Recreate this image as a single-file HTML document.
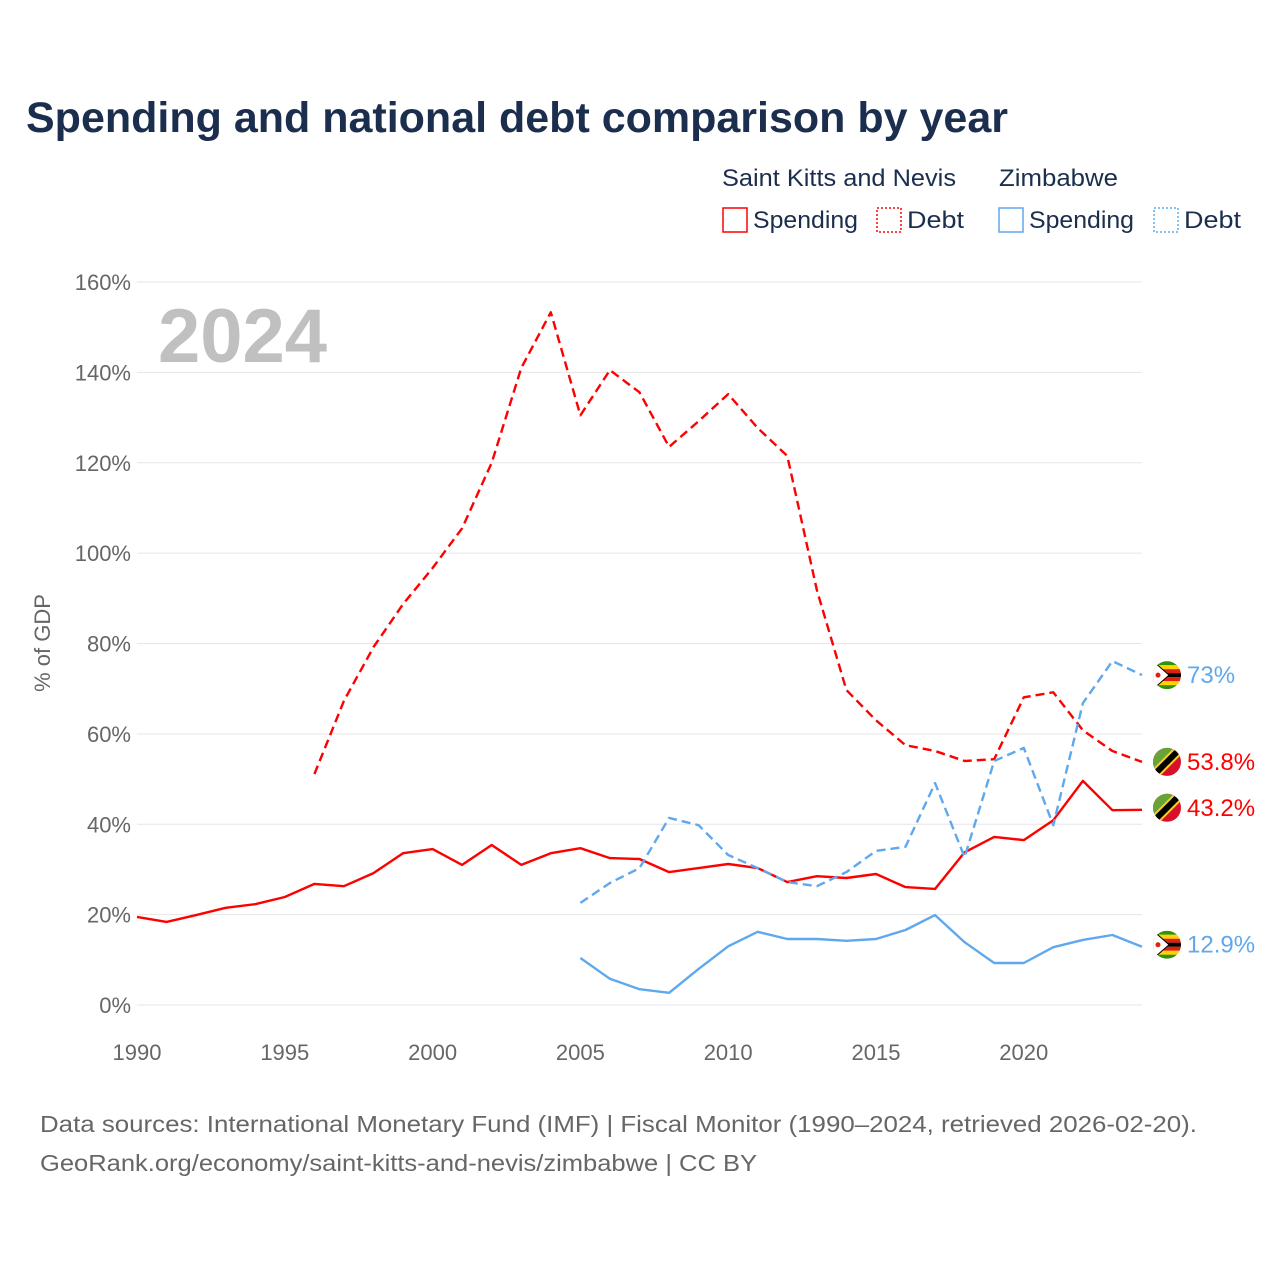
<!DOCTYPE html>
<html><head><meta charset="utf-8">
<style>
body{margin:0;background:#fff;width:1280px;height:1280px;overflow:hidden;font-family:"Liberation Sans",sans-serif;}
svg text{font-family:"Liberation Sans",sans-serif;}
</style></head>
<body>
<svg id="chart" width="1280" height="1280" xmlns="http://www.w3.org/2000/svg">
<text x="26" y="132" font-size="43" font-weight="bold" fill="#1b2e4d" textLength="982" lengthAdjust="spacingAndGlyphs">Spending and national debt comparison by year</text>
<g font-size="24" fill="#1b2e4d">
<text x="722" y="186" fill="#1b2e4d" textLength="234" lengthAdjust="spacingAndGlyphs">Saint Kitts and Nevis</text>
<text x="999" y="186" fill="#1b2e4d" textLength="119" lengthAdjust="spacingAndGlyphs">Zimbabwe</text>
<g><rect x="723" y="208" width="24" height="24" fill="none" stroke="#f00" stroke-width="1.5"/><text x="753" y="228" fill="#1b2e4d" textLength="105" lengthAdjust="spacingAndGlyphs">Spending</text></g>
<g><rect x="877" y="208" width="24" height="24" fill="none" stroke="#f00" stroke-width="1.5" stroke-dasharray="2,2"/><text x="907" y="228" fill="#1b2e4d" textLength="57" lengthAdjust="spacingAndGlyphs">Debt</text></g>
<g><rect x="999" y="208" width="24" height="24" fill="none" stroke="#5fa8ee" stroke-width="1.5"/><text x="1029" y="228" fill="#1b2e4d" textLength="105" lengthAdjust="spacingAndGlyphs">Spending</text></g>
<g><rect x="1154" y="208" width="24" height="24" fill="none" stroke="#5fa8ee" stroke-width="1.5" stroke-dasharray="2,2"/><text x="1184" y="228" fill="#1b2e4d" textLength="57" lengthAdjust="spacingAndGlyphs">Debt</text></g>
</g>
<g id="grid"></g>
<g id="yticks" font-size="22" fill="#666"></g>
<g id="xticks" font-size="22" fill="#666"></g>
<text x="158" y="362" font-size="76" font-weight="bold" fill="#c0c0c0">2024</text>
<text transform="translate(50,643) rotate(-90)" text-anchor="middle" font-size="22" fill="#666">% of GDP</text>
<g id="series"></g>
<g id="labels"></g>
<text x="40" y="1132" font-size="23" fill="#666" textLength="1157" lengthAdjust="spacingAndGlyphs">Data sources: International Monetary Fund (IMF) | Fiscal Monitor (1990–2024, retrieved 2026-02-20).</text>
<text x="40" y="1171" font-size="23" fill="#666" textLength="717" lengthAdjust="spacingAndGlyphs">GeoRank.org/economy/saint-kitts-and-nevis/zimbabwe | CC BY</text>
<defs>
<clipPath id="cf"><circle cx="0" cy="0" r="14"/></clipPath>
</defs>
</svg>
<script>
const sknSpendingYears = [1990,2024];
const sknSpending = [19.5,18.4,19.9,21.5,22.3,23.9,26.8,26.3,29.2,33.6,34.5,31,35.4,31,33.6,34.7,32.5,32.3,29.4,30.3,31.2,30.3,27.2,28.5,28.1,29,26.1,25.7,33.8,37.2,36.5,40.9,49.6,43.1,43.2];
const sknDebtStart = 1996;
const sknDebt = [51.1,67.3,79.2,88.7,96.7,105.5,120,141,153.3,130.5,140.5,135.6,123.5,129.2,135.2,127.7,121.5,91.8,69.7,63,57.5,56.2,54,54.4,68.1,69.2,60.8,56.2,53.8];
const zimStart = 2005;
const zimSpending = [10.4,5.8,3.5,2.7,8,13,16.2,14.6,14.6,14.2,14.6,16.6,19.9,13.9,9.3,9.3,12.8,14.4,15.5,12.9];
const zimDebt = [22.6,27,30.3,41.4,39.8,33.2,30.3,27.2,26.3,29.4,34.1,35,49.1,32.7,54,56.9,39.8,66.8,76.1,73];
const yTicks = [0,20,40,60,80,100,120,140,160];
const xTicks = [1990,1995,2000,2005,2010,2015,2020];
const endLabels = ["43.2%","53.8%","12.9%","73%"];

const NS="http://www.w3.org/2000/svg";
const X0=137,X1=1142,Y0=1005,Y1=282;
function x(yr){return X0+(yr-1990)*(X1-X0)/34;}
function y(v){return Y0-v*(Y0-Y1)/160;}
function mk(tag,attrs,parent){const e=document.createElementNS(NS,tag);for(const k in attrs)e.setAttribute(k,attrs[k]);parent.appendChild(e);return e;}
const grid=document.getElementById('grid'),yt=document.getElementById('yticks'),xt=document.getElementById('xticks');
yTicks.forEach(v=>{
  const l=mk('line',{x1:137,x2:1142,y1:y(v),y2:y(v),stroke:'#e6e6e6','stroke-width':1},grid);
  
  
  const t=mk('text',{x:131,y:y(v)+8,'text-anchor':'end'},yt);t.textContent=v+'%';
  
  
});
xTicks.forEach(v=>{
  const t=mk('text',{x:x(v),y:1060,'text-anchor':'middle'},xt);t.textContent=v;
  
  
});
const ser=document.getElementById('series');
function line(vals,start,color,dash,name){
  const d=vals.map((v,i)=>(i?'L':'M')+x(start+i).toFixed(1)+','+y(v).toFixed(1)).join('');
  const p=mk('path',{d:d,fill:'none',stroke:color,'stroke-width':2.4,'stroke-linejoin':'round'},ser);
  if(dash)p.setAttribute('stroke-dasharray','9,5');
  
  
  return y(vals[vals.length-1]);
}
const RED='#ff0000',BLUE='#5fa8ee';
const ySS=line(sknSpending,sknSpendingYears[0],RED,false,'skn-spending-line');
const ySD=line(sknDebt,sknDebtStart,RED,true,'skn-debt-line');
const yZS=line(zimSpending,zimStart,BLUE,false,'zim-spending-line');
const yZD=line(zimDebt,zimStart,BLUE,true,'zim-debt-line');
const lab=document.getElementById('labels');
function flag(cy,kind,text,color,name){
  const g=mk('g',{transform:'translate(1167,'+cy+')'},lab);
  
  
  const c=mk('g',{'clip-path':'url(#cf)'},g);
  if(kind==='skn'){
    mk('rect',{x:-15,y:-15,width:30,height:30,fill:'#d8102a'},c);
    mk('polygon',{points:'-15,-15 15,-15 -15,15',fill:'#6aa23a'},c);
    mk('line',{x1:-18,y1:18,x2:18,y2:-18,stroke:'#fcd116','stroke-width':10},c);
    mk('line',{x1:-18,y1:18,x2:18,y2:-18,stroke:'#000','stroke-width':6},c);
  } else {
    const cols=['#319208','#ffd200','#de2010','#000','#de2010','#ffd200','#319208'];
    cols.forEach((cl,i)=>mk('rect',{x:-15,y:-14+i*4,width:30,height:4.1,fill:cl},c));
    mk('polygon',{points:'-15,-15 2,0 -15,15',fill:'#fff',stroke:'#000','stroke-width':1},c);
    mk('circle',{cx:-9,cy:0,r:2.5,fill:'#de2010'},c);
  }
  const t=mk('text',{x:1187,y:cy+8,'font-size':24,fill:color},lab);t.textContent=text;
  
  
}
flag(ySS-2,'skn',endLabels[0],RED,'skn-spending-end-label');
flag(ySD,'skn',endLabels[1],RED,'skn-debt-end-label');
flag(yZS-2,'zim',endLabels[2],BLUE,'zim-spending-end-label');
flag(yZD,'zim',endLabels[3],BLUE,'zim-debt-end-label');
</script>
</body></html>
